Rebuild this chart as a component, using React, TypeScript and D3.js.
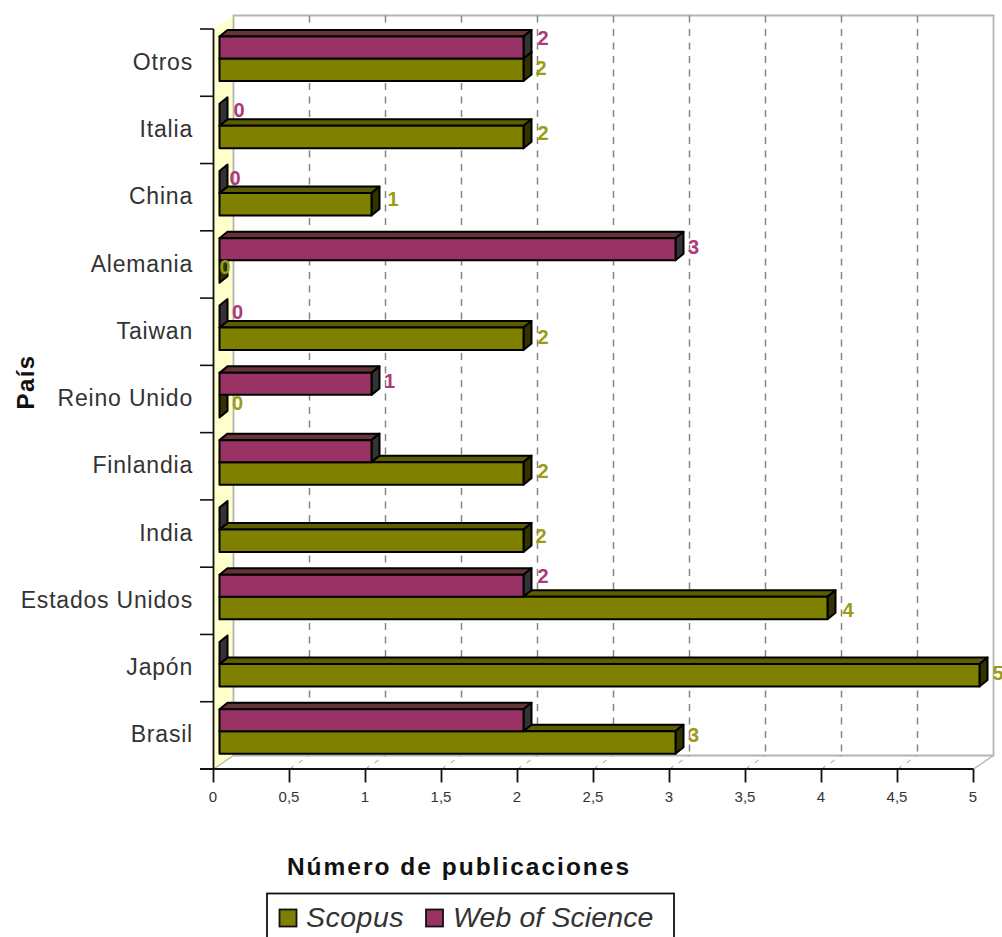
import React from "react";
import * as d3 from "d3";

// Publications per country, listed from the top row of the chart to the bottom.
const countries = ["Otros", "Italia", "China", "Alemania", "Taiwan", "Reino Unido", "Finlandia", "India", "Estados Unidos", "Japón", "Brasil"];
const scopusValues = [2, 2, 1, 0, 2, 0, 2, 2, 4, 5, 3];
const wosValues = [2, 0, 0, 3, 0, 1, 1, 0, 2, 0, 2];

// Which bars carry a value label.
const scopusLabelled = [true, true, true, true, true, true, true, true, true, true, true];
const wosLabelled = [true, true, true, true, true, true, false, false, true, false, false];

// Hand placement of each value label relative to the end of its bar, [dx, dy].
const scopusNudge = [[-0.5, -2], [1.5, -4], [3.5, -5], [-12.5, -4.5], [1.5, -2], [0, -3], [1.5, -2], [-0.5, -4.5], [2.5, 2], [0.5, -2], [0, -7]];
const wosNudge = [[1.5, -9.5], [1.5, -5], [-2.5, -4], [0, -2], [0, -4.6], [0, -3], [0, 0], [0, 0], [1.5, -9.7], [0, 0], [0, 0]];

const xTicks = [0, 0.5, 1, 1.5, 2, 2.5, 3, 3.5, 4, 4.5, 5];

const SCOPUS = { name: "Scopus", front: "#808000", top: "#5c5c00", side: "#333300", label: "#9c9c14" };
const WOS = { name: "Web of Science", front: "#993366", top: "#663339", side: "#333333", label: "#ad3a78" };

const WIDTH = 1002;
const HEIGHT = 937;
const FONT = "'Liberation Sans', Arial, sans-serif";

// Oblique offset of the back wall and of the bars' own depth.
const WALL_DX = 20;
const WALL_DY = -13.5;
const BAR_DX = 8;
const BAR_DY = -6.5;
const BAR_INSET = 6;

const x = d3.scaleLinear().domain([0, 5]).range([213.5, 973.5]);
const y = d3.scaleBand<string>().domain(countries).range([29, 769]);
const poly = d3.line();
const pathOf = (pts: [number, number][]) => poly(pts) + "Z";
const tickText = (t: number) => String(t).replace(".", ",");

function Bar({ value, top, bottom, c }: { value: number; top: number; bottom: number; c: typeof SCOPUS }) {
  const x0 = x(0) + BAR_INSET;
  const x1 = x(value) + BAR_INSET;
  const line = { stroke: "#000", strokeWidth: 2, strokeLinejoin: "round" as const };
  return (
    <g>
      {value > 0 && (
        <path
          d={pathOf([[x0, top], [x0 + BAR_DX, top + BAR_DY], [x1 + BAR_DX, top + BAR_DY], [x1, top]])}
          fill={c.top}
          {...line}
        />
      )}
      <path
        d={pathOf([[x1, top], [x1 + BAR_DX, top + BAR_DY], [x1 + BAR_DX, bottom + BAR_DY], [x1, bottom]])}
        fill={c.side}
        {...line}
      />
      {value > 0 && <rect x={x0} y={top} width={x1 - x0} height={bottom - top} fill={c.front} {...line} />}
    </g>
  );
}

export default function App() {
  const bw = y.bandwidth();
  const xL = x(0);
  const xR = x(5);
  const yB = y.range()[1];
  const yT = y.range()[0];
  const wosBox = (c: string) => [y(c)! + 7.5, y(c)! + 29.5];
  const scoBox = (c: string) => [y(c)! + 29.5, y(c)! + 52];

  return (
    <svg
      width={WIDTH}
      height={HEIGHT}
      viewBox={`0 0 ${WIDTH} ${HEIGHT}`}
      style={{ position: "absolute", left: 0, top: 0, display: "block", background: "#fff" }}
    >
      {/* Left wall */}
      <path
        d={pathOf([[xL, yB], [xL + WALL_DX, yB + WALL_DY], [xL + WALL_DX, yT + WALL_DY], [xL, yT]])}
        fill="#ffffcc"
        stroke="none"
      />
      {/* Back wall frame */}
      <path
        d={`M${xL + WALL_DX},${yB + WALL_DY}V${yT + WALL_DY}H${xR + WALL_DX}V${yB + WALL_DY}H${xL + WALL_DX}`}
        fill="none"
        stroke="#b4b4b4"
        strokeWidth={1.8}
      />
      <path d={`M${xL},${yB}L${xL + WALL_DX},${yB + WALL_DY}`} stroke="#b4b4b4" strokeWidth={1.2} />
      <path d={`M${xR},${yB}L${xR + WALL_DX},${yB + WALL_DY}`} stroke="#b4b4b4" strokeWidth={1.4} />

      {/* Gridlines on the back wall and across the floor */}
      {xTicks.slice(1, -1).map((t) => (
        <g key={t} stroke="#868686" fill="none">
          <line x1={x(t) + WALL_DX} x2={x(t) + WALL_DX} y1={yT + WALL_DY} y2={yB + WALL_DY} strokeWidth={1.5} strokeDasharray="7 6.5" />
          <line x1={x(t)} x2={x(t) + WALL_DX} y1={yB} y2={yB + WALL_DY} strokeWidth={1} strokeDasharray="5 6" stroke="#999" />
        </g>
      ))}

      {/* Bars: Scopus first, so the Web of Science front face sits over its top */}
      {countries.map((c, i) => (
        <Bar key={c} value={scopusValues[i]} top={scoBox(c)[0]} bottom={scoBox(c)[1]} c={SCOPUS} />
      ))}
      {countries.map((c, i) => (
        <Bar key={c} value={wosValues[i]} top={wosBox(c)[0]} bottom={wosBox(c)[1]} c={WOS} />
      ))}

      {/* Axes */}
      <path d={`M${xL},${yT}V${yB}`} stroke="#111" strokeWidth={1.8} fill="none" />
      <path d={`M200,${yB}H${xR}`} stroke="#111" strokeWidth={1.8} fill="none" />
      {countries.map((c) => (
        <line key={c} x1={200} x2={xL} y1={y(c)!} y2={y(c)!} stroke="#111" strokeWidth={1.6} />
      ))}
      {xTicks.map((t) => (
        <g key={t}>
          <line x1={x(t)} x2={x(t)} y1={yB} y2={yB + 13.5} stroke="#111" strokeWidth={1.8} />
          <text x={x(t) - 0.5} y={797} dy=".35em" textAnchor="middle" fontFamily={FONT} fontSize={15} fill="#333">
            {tickText(t)}
          </text>
        </g>
      ))}

      {/* Country names */}
      {countries.map((c) => (
        <text
          key={c}
          x={193}
          y={y(c)! + bw / 2 - 1}
          dy=".35em"
          textAnchor="end"
          fontFamily={FONT}
          fontSize={23}
          letterSpacing={0.8}
          fill="#333"
        >
          {c}
        </text>
      ))}

      {/* Value labels */}
      <g fontFamily={FONT} fontWeight="bold" fontSize={20} textAnchor="middle">
        {countries.map((c, i) =>
          scopusLabelled[i] ? (
            <text
              key={c}
              x={x(scopusValues[i]) + BAR_INSET + 18 + scopusNudge[i][0]}
              y={(scoBox(c)[0] + scoBox(c)[1]) / 2 + scopusNudge[i][1]}
              dy=".35em"
              fill={SCOPUS.label}
            >
              {scopusValues[i]}
            </text>
          ) : null
        )}
        {countries.map((c, i) =>
          wosLabelled[i] ? (
            <text
              key={c}
              x={x(wosValues[i]) + BAR_INSET + 18 + wosNudge[i][0]}
              y={(wosBox(c)[0] + wosBox(c)[1]) / 2 + wosNudge[i][1]}
              dy=".35em"
              fill={WOS.label}
            >
              {wosValues[i]}
            </text>
          ) : null
        )}
      </g>

      {/* Axis titles */}
      <text
        x={459}
        y={866}
        dy=".35em"
        textAnchor="middle"
        fontFamily={FONT}
        fontWeight="bold"
        fontSize={24.5}
        letterSpacing={2}
        fill="#111"
      >
        Número de publicaciones
      </text>
      <text
        transform="translate(26,382) rotate(-90)"
        dy=".35em"
        textAnchor="middle"
        fontFamily={FONT}
        fontWeight="bold"
        fontSize={24}
        letterSpacing={1.4}
        fill="#111"
      >
        País
      </text>

      {/* Legend */}
      <rect x={267} y={893.5} width={407} height={60} fill="#fff" stroke="#111" strokeWidth={1.8} />
      <rect x={279.5} y={909.5} width={17} height={17} fill={SCOPUS.front} stroke="#111" strokeWidth={1.8} />
      <text x={306} y={917.5} dy=".35em" fontFamily={FONT} fontStyle="italic" fontSize={28.5} letterSpacing={0.5} fill="#333">
        {SCOPUS.name}
      </text>
      <rect x={426} y={909.5} width={17} height={17} fill={WOS.front} stroke="#111" strokeWidth={1.8} />
      <text x={453} y={917.5} dy=".35em" fontFamily={FONT} fontStyle="italic" fontSize={28.5} letterSpacing={0.1} fill="#333">
        {WOS.name}
      </text>
    </svg>
  );
}
